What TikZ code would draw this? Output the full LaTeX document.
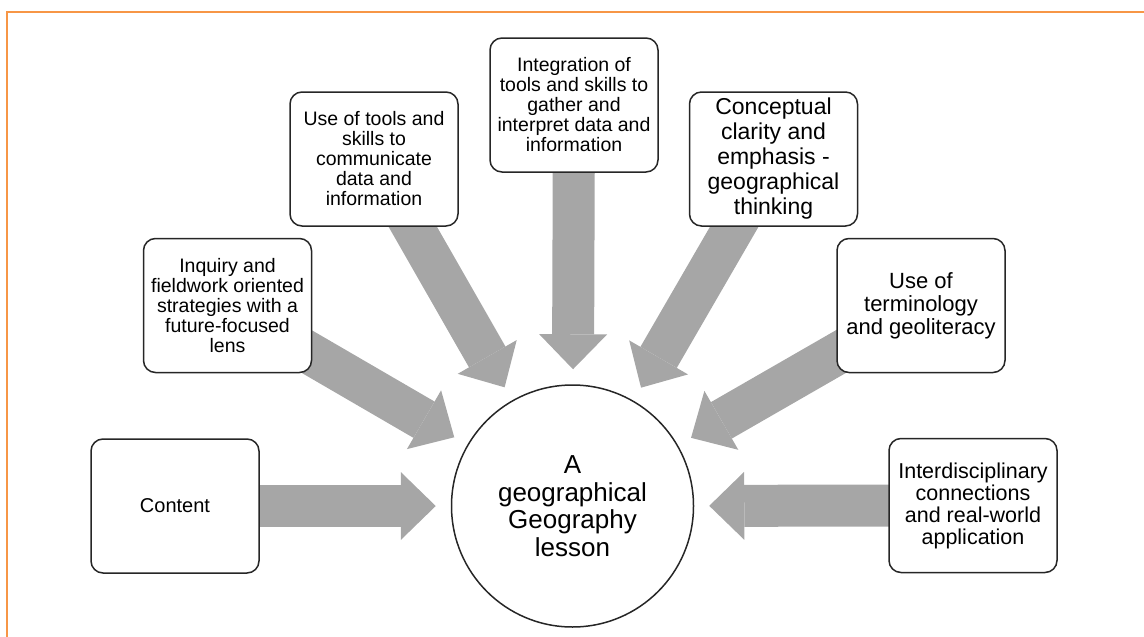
\documentclass[tikz,border=0pt]{standalone}
\usepackage{fontspec}
\setmainfont{Liberation Sans}
\usetikzlibrary{arrows.meta,backgrounds}
\definecolor{framecol}{RGB}{247,150,70}
\definecolor{flowgray}{RGB}{166,166,166}
\begin{document}
\begin{tikzpicture}[x=1pt, y=-1pt, line width=1.5pt,
  main node/.style={rectangle,rounded corners=12pt,draw=black!85,fill=white,minimum width=168pt,minimum height=134pt,inner sep=2pt,align=center},
  hub node/.style={circle,draw=black!85,fill=white,minimum size=242pt,inner sep=0pt,align=center},
  flow/.style={color=flowgray,line width=42pt,-{Triangle[length=35pt,width=68pt,line width=0pt]},shorten >=15pt}]
\useasboundingbox (0,0) rectangle (1144,637);
\draw[framecol,line width=1.2pt] (7,637) -- (7,12) -- (1144,12);
\begin{scope}[every node/.style={font=\fontsize{19.5}{20}\selectfont}]
\node [hub node,font=\fontsize{26}{27.5}\selectfont](lesson) at (572.5,506) {A\\geographical\\Geography\\lesson};
\node [main node,font=\fontsize{20}{20}\selectfont](content) at (175,506) {Content};
\node [main node](inquiry) at (227.5,305.5) {Inquiry and\\fieldwork oriented\\strategies with a\\future-focused\\lens};
\node [main node](tools) at (374,159) {Use of tools and\\skills to\\communicate\\data and\\information};
\node [main node](integration) at (574,105) {Integration of\\tools and skills to\\gather and\\interpret data and\\information};
\node [main node,font=\fontsize{23}{25}\selectfont](concepts) at (773.5,159) {Conceptual\\clarity and\\emphasis -\\geographical\\thinking};
\node [main node,font=\fontsize{22}{23}\selectfont](terms) at (921,305.5) {Use of\\terminology\\and geoliteracy};
\node [main node,font=\fontsize{21.5}{22}\selectfont](links) at (973,505.5) {Interdisciplinary\\connections\\and real-world\\application};
\end{scope}
\begin{pgfonlayer}{background}
\path[flow]
	(content.center) edge (lesson)
	(inquiry.center) edge (lesson)
	(tools.center) edge (lesson)
	(integration.center) edge (lesson)
	(concepts.center) edge (lesson)
	(terms.center) edge (lesson)
	(links.center) edge (lesson)
	;
\end{pgfonlayer}
\end{tikzpicture}
\end{document}
